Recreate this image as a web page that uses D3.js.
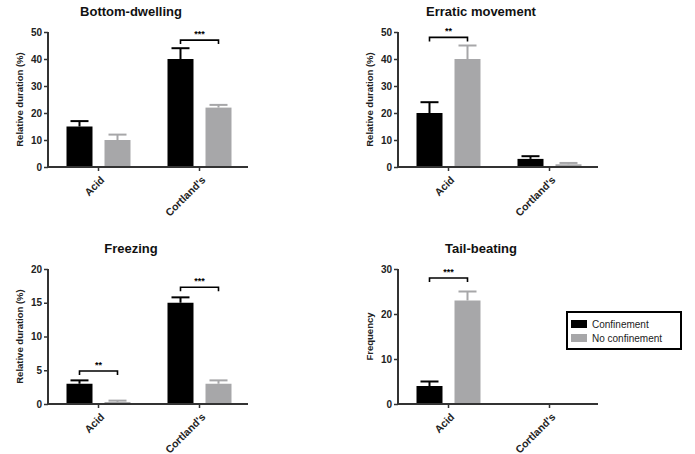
<!DOCTYPE html>
<html>
<head>
<meta charset="utf-8">
<script src="https://cdn.jsdelivr.net/npm/d3@7"></script>
<style>
  body { margin: 0; background: #fff; }
  svg { font-family: "Liberation Sans", Arial, sans-serif; }
</style>
</head>
<body>
<div id="chart"></div>
<script>
// data
var groups = ["Acid", "Cortland's"]
var series = ["Confinement", "No confinement"]
var colors = ["#000000", "#a7a7a9"]

var titles = ["Bottom-dwelling", "Erratic movement", "Freezing", "Tail-beating"]
var yLabels = ["Relative duration (%)", "Relative duration (%)", "Relative duration (%)", "Frequency"]
var yMax = [50, 50, 20, 30]
var yStep = [10, 10, 5, 10]

// [confinement, no confinement] per group
var bottomMean = [[15, 10], [40, 22]]
var bottomErr = [[2, 2], [4, 1]]
var erraticMean = [[20, 40], [3, 1]]
var erraticErr = [[4, 5], [1, 0.5]]
var freezingMean = [[3, 0.3], [15, 3]]
var freezingErr = [[0.5, 0.2], [0.8, 0.5]]
var tailMean = [[4, 23], [0, 0]]
var tailErr = [[1, 2], [0, 0]]

var bottomSig = [{group: "Cortland's", label: "***", y: 47}]
var erraticSig = [{group: "Acid", label: "**", y: 48}]
var freezingSig = [{group: "Acid", label: "**", y: 4.9}, {group: "Cortland's", label: "***", y: 17.3}]
var tailSig = [{group: "Acid", label: "***", y: 28}]

var means = [bottomMean, erraticMean, freezingMean, tailMean]
var errs = [bottomErr, erraticErr, freezingErr, tailErr]
var sigs = [bottomSig, erraticSig, freezingSig, tailSig]

var W = 695, H = 454
var svg = d3.select('#chart').append('svg').attr('width', W).attr('height', H)

// panel origins (y axis x, top of axis)
var origins = [[48, 32], [398, 32], [48, 269], [398, 269]]
var plotW = 200, plotH = 135
var axisColor = '#333'

var x0 = d3.scaleBand().domain(groups).range([0, 202])
var x1 = d3.scaleBand().domain(series).range([-32, 32]).paddingInner(0.316)

titles.forEach(function (t, i) {
	var g = svg.append('g').attr('transform', 'translate(' + origins[i][0] + ',' + origins[i][1] + ')')
	var y = d3.scaleLinear().domain([0, yMax[i]]).range([plotH, 0])

	g.append('text').attr('x', 83).attr('y', -16)
		.attr('text-anchor', 'middle').style('font-size', '13px').style('font-weight', 'bold')
		.attr('fill', '#111').text(t)

	g.append('text').attr('transform', 'translate(-25,' + (plotH / 2) + ') rotate(-90)')
		.attr('text-anchor', 'middle').style('font-size', '9.5px').style('font-weight', 'bold')
		.attr('fill', '#222').text(yLabels[i])

	var rows = []
	groups.forEach(function (gr, gi) {
		series.forEach(function (s, si) {
			rows.push({group: gr, series: s, si: si, v: means[i][gi][si], e: errs[i][gi][si]})
		})
	})

	var bx = function (d) { return x0(d.group) + x0.bandwidth() / 2 + x1(d.series) }

	g.selectAll('rect.bar').data(rows.filter(function (d) { return d.v > 0 })).enter().append('rect')
		.attr('class', 'bar')
		.attr('x', bx)
		.attr('width', x1.bandwidth())
		.attr('y', function (d) { return y(d.v) })
		.attr('height', function (d) { return plotH - y(d.v) })
		.attr('fill', function (d) { return colors[d.si] })

	var eb = g.selectAll('g.err').data(rows.filter(function (d) { return d.e > 0 })).enter().append('g')
		.attr('class', 'err')
		.attr('stroke', function (d) { return colors[d.si] }).attr('stroke-width', 2)
	eb.append('line')
		.attr('x1', function (d) { return bx(d) + x1.bandwidth() / 2 })
		.attr('x2', function (d) { return bx(d) + x1.bandwidth() / 2 })
		.attr('y1', function (d) { return y(d.v) })
		.attr('y2', function (d) { return y(d.v + d.e) })
	eb.append('line')
		.attr('x1', function (d) { return bx(d) + x1.bandwidth() / 2 - 9 })
		.attr('x2', function (d) { return bx(d) + x1.bandwidth() / 2 + 9 })
		.attr('y1', function (d) { return y(d.v + d.e) })
		.attr('y2', function (d) { return y(d.v + d.e) })

	// significance brackets
	var sg = g.selectAll('g.sig').data(sigs[i]).enter().append('g').attr('class', 'sig')
	sg.append('path')
		.attr('d', function (d) {
			var c = x0(d.group) + x0.bandwidth() / 2
			var a = c + x1(series[0]) + x1.bandwidth() / 2
			var b = c + x1(series[1]) + x1.bandwidth() / 2
			var yy = y(d.y)
			return 'M' + a + ',' + (yy + 4) + 'V' + yy + 'H' + b + 'V' + (yy + 4)
		})
		.attr('fill', 'none').attr('stroke', '#000').attr('stroke-width', 1.6)
	sg.append('text')
		.attr('x', function (d) { return x0(d.group) + x0.bandwidth() / 2 })
		.attr('y', function (d) { return y(d.y) - 3 })
		.attr('text-anchor', 'middle').style('font-size', '9px').style('font-weight', 'bold')
		.text(function (d) { return d.label })

	// axes
	var yAxis = d3.axisLeft(y).tickValues(d3.range(0, yMax[i] + 0.001, yStep[i])).tickSize(4).tickPadding(2)
	var ya = g.append('g').call(yAxis)
	ya.select('.domain').attr('stroke', axisColor).attr('stroke-width', 2).attr('d', 'M0,' + plotH + 'V0')
	ya.selectAll('.tick line').attr('stroke', axisColor).attr('stroke-width', 1.5)
	ya.selectAll('.tick text').style('font-size', '10px').style('font-weight', 'bold').attr('fill', '#222')
		.attr('font-family', null)

	var xAxis = d3.axisBottom(x0).tickSize(4).tickSizeOuter(0).tickFormat('')
	var xa = g.append('g').attr('transform', 'translate(0,' + plotH + ')').call(xAxis)
	xa.select('.domain').attr('stroke', axisColor).attr('stroke-width', 2).attr('d', 'M0,0H' + plotW)
	xa.selectAll('.tick line').attr('stroke', axisColor).attr('stroke-width', 1.5)
	xa.selectAll('.tick text').remove()
	xa.selectAll('.tick').append('text')
		.style('font-size', '10.5px').style('font-weight', 'bold').attr('fill', '#222')
		.attr('text-anchor', 'end')
		.attr('dy', '0.35em')
		.attr('transform', 'translate(4,11) rotate(-45)')
		.text(function (d) { return d })
})

// legend
var lg = svg.append('g').attr('transform', 'translate(567,312)')
lg.append('rect').attr('width', 114).attr('height', 37).attr('fill', 'none')
	.attr('stroke', '#000').attr('stroke-width', 2)
series.forEach(function (s, i) {
	lg.append('rect').attr('x', 4).attr('y', 8 + i * 14).attr('width', 16).attr('height', 8).attr('fill', colors[i])
	lg.append('text').attr('x', 25).attr('y', 12 + i * 14).attr('dy', '0.35em')
		.style('font-size', '10px').attr('fill', '#222').text(s)
})
</script>
</body>
</html>
